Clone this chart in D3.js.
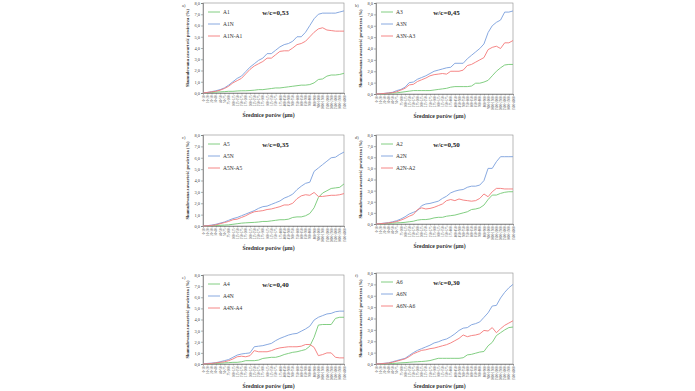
<!DOCTYPE html>
<html>
<head>
<meta charset="utf-8">
<script src="https://cdn.jsdelivr.net/npm/d3@7"></script>
<style>
body { margin: 0; background: #fff; }
text { font-family: "Liberation Serif", "DejaVu Serif", serif; }
</style>
</head>
<body>
<script>
var W = 695, H = 391;

// pore diameter classes (µm)
var classes = ["0-10","10-20","20-30","30-40","40-50","50-75","75-100","100-125","125-150","150-175",
  "175-200","200-225","225-250","250-275","275-300","300-325","325-350","350-375","375-400","400-450",
  "450-500","500-550","550-600","600-650","650-700","700-800","800-900","900-1000","1000-1500",
  "1500-2000","2000-2500","2500-3000","3000-3500","3500-4000"];
var yTicks = [0, 1, 2, 3, 4, 5, 6, 7, 8];

// a) w/c=0,53
var a1 = [0,0.02,0.05,0.08,0.1,0.12,0.15,0.15,0.18,0.2,0.2,0.22,0.25,0.3,0.3,0.35,0.4,0.45,0.45,0.5,0.55,0.6,0.65,0.7,0.7,0.75,0.9,1.2,1.25,1.5,1.6,1.6,1.65,1.75];
var a1n = [0,0.05,0.12,0.2,0.3,0.45,0.7,1.0,1.3,1.5,1.9,2.3,2.6,2.9,3.1,3.5,3.5,3.8,4.1,4.3,4.4,4.6,5.0,5.0,5.4,6.0,6.6,7.0,7.1,7.1,7.1,7.1,7.2,7.3];
var a1nA1 = [0,0.05,0.1,0.15,0.25,0.4,0.6,0.9,1.1,1.3,1.7,2.1,2.4,2.6,2.8,3.1,3.1,3.4,3.7,3.75,3.75,4.0,4.3,4.4,4.6,5.0,5.4,5.7,5.8,5.6,5.55,5.5,5.5,5.5];
// b) w/c=0,45
var a3 = [0,0,0.02,0.05,0.08,0.1,0.15,0.2,0.25,0.3,0.3,0.3,0.3,0.3,0.35,0.4,0.45,0.5,0.6,0.65,0.65,0.65,0.65,0.7,0.95,0.95,1.05,1.2,1.6,2.0,2.3,2.55,2.6,2.6];
var a3n = [0,0.02,0.05,0.1,0.15,0.3,0.4,0.6,1.0,1.05,1.3,1.45,1.6,1.8,2.0,2.1,2.2,2.3,2.35,2.7,2.7,2.7,3.1,3.4,3.7,4.0,4.4,5.4,6.0,6.3,6.5,7.2,7.2,7.3];
var a3nA3 = [0,0.02,0.05,0.08,0.12,0.2,0.35,0.5,0.8,0.85,1.1,1.25,1.4,1.6,1.7,1.75,1.8,1.75,2.0,2.0,2.0,2.1,2.5,2.6,2.8,3.0,3.2,3.9,4.1,4.2,4.0,4.5,4.5,4.7];
// c) w/c=0,35
var a5 = [0,0.01,0.03,0.05,0.06,0.08,0.1,0.15,0.2,0.25,0.28,0.3,0.32,0.35,0.4,0.4,0.45,0.5,0.55,0.55,0.6,0.75,0.8,0.8,0.9,1.1,1.6,2.5,2.9,3.1,3.3,3.35,3.4,3.7];
var a5n = [0,0.03,0.08,0.15,0.25,0.35,0.5,0.65,0.75,0.9,1.05,1.2,1.35,1.55,1.7,1.75,1.9,2.05,2.2,2.45,2.6,2.8,3.2,3.5,3.75,3.85,4.8,5.1,5.4,5.7,6.0,6.05,6.3,6.5];
var a5nA5 = [0,0.02,0.05,0.1,0.2,0.3,0.4,0.55,0.6,0.75,0.9,1.1,1.25,1.3,1.35,1.45,1.5,1.6,1.7,1.85,1.85,2.0,2.4,2.65,2.75,2.7,2.95,2.6,2.6,2.65,2.7,2.7,2.75,2.85];
// d) w/c=0,50
var a2 = [0,0.01,0.03,0.05,0.08,0.1,0.12,0.15,0.2,0.25,0.35,0.4,0.4,0.45,0.55,0.6,0.6,0.7,0.75,0.8,0.9,1.0,1.1,1.3,1.35,1.45,1.7,2.2,2.6,2.6,2.75,2.85,2.9,2.9];
var a2n = [0,0.03,0.08,0.12,0.2,0.3,0.45,0.65,0.9,1.05,1.2,1.65,1.8,1.85,1.95,2.05,2.3,2.5,2.8,2.95,3.05,3.1,3.3,3.4,3.4,3.5,3.9,5.0,5.0,5.6,6.05,6.05,6.05,6.05];
var a2nA2 = [0,0.03,0.06,0.1,0.15,0.22,0.35,0.5,0.7,0.85,1.3,1.45,1.35,1.4,1.5,1.65,1.8,2.1,2.2,2.1,2.25,2.15,2.1,2.05,2.1,2.3,2.7,2.45,2.9,3.2,3.2,3.15,3.15,3.15];
// e) w/c=0,40
var a4 = [0,0.01,0.03,0.05,0.07,0.1,0.12,0.15,0.15,0.2,0.3,0.3,0.3,0.35,0.5,0.55,0.6,0.6,0.7,0.85,0.95,1.05,1.1,1.2,1.3,1.6,2.4,3.5,3.55,3.55,3.55,4.1,4.2,4.2];
var a4n = [0,0.05,0.08,0.12,0.2,0.3,0.4,0.6,0.8,0.9,0.95,1.0,1.55,1.6,1.65,1.75,1.85,2.1,2.3,2.45,2.6,2.7,2.75,2.95,3.15,3.4,3.95,4.2,4.35,4.5,4.55,4.7,4.75,4.75];
var a4nA4 = [0,0.02,0.05,0.1,0.15,0.2,0.3,0.45,0.65,0.7,0.65,0.75,1.2,1.1,1.1,1.1,1.2,1.35,1.45,1.5,1.55,1.55,1.55,1.6,1.75,1.75,1.5,0.75,0.85,1.0,1.0,0.6,0.55,0.55];
// f) w/c=0,30
var a6 = [0,0.01,0.02,0.03,0.05,0.07,0.1,0.12,0.15,0.18,0.2,0.22,0.25,0.3,0.4,0.5,0.5,0.5,0.5,0.5,0.5,0.55,0.8,0.85,0.95,1.05,1.1,1.6,1.9,2.5,2.75,3.0,3.2,3.25];
var a6n = [0,0.03,0.06,0.1,0.2,0.3,0.4,0.5,0.75,1.0,1.2,1.35,1.5,1.65,1.85,1.95,2.1,2.2,2.4,2.65,2.95,3.15,3.2,3.45,3.55,3.7,4.1,4.5,5.1,5.15,5.8,6.3,6.7,7.0];
var a6nA6 = [0,0.02,0.05,0.08,0.15,0.25,0.35,0.45,0.65,0.9,1.05,1.2,1.25,1.35,1.4,1.5,1.6,1.7,1.85,2.05,2.25,2.55,2.4,2.5,2.55,2.65,2.95,2.9,3.2,2.75,3.1,3.4,3.6,3.8];

var colors = ["#74c874", "#7b9fdc", "#f47878"];

var panels = [
  {letter: "a)", title: "w/c=0,53", names: ["A1", "A1N", "A1N-A1"], series: [a1, a1n, a1nA1], x: 203, y: 3, w: 141, h: 90},
  {letter: "b)", title: "w/c=0,45", names: ["A3", "A3N", "A3N-A3"], series: [a3, a3n, a3nA3], x: 376, y: 3, w: 137, h: 91},
  {letter: "c)", title: "w/c=0,35", names: ["A5", "A5N", "A5N-A5"], series: [a5, a5n, a5nA5], x: 203, y: 135, w: 141, h: 91},
  {letter: "d)", title: "w/c=0,50", names: ["A2", "A2N", "A2N-A2"], series: [a2, a2n, a2nA2], x: 376, y: 135, w: 137, h: 89},
  {letter: "e)", title: "w/c=0,40", names: ["A4", "A4N", "A4N-A4"], series: [a4, a4n, a4nA4], x: 203, y: 275, w: 141, h: 89},
  {letter: "f)", title: "w/c=0,30", names: ["A6", "A6N", "A6N-A6"], series: [a6, a6n, a6nA6], x: 376, y: 273, w: 137, h: 91}
];

var svg = d3.select("body").append("svg")
    .attr("width", W)
    .attr("height", H);

svg.append("rect").attr("width", W).attr("height", H).attr("fill", "#fff");

panels.forEach(function(p) {
  var g = svg.append("g").attr("transform", "translate(" + p.x + "," + p.y + ")");

  var x = d3.scalePoint().domain(classes).range([0, p.w]).padding(0);
  var y = d3.scaleLinear().domain([0, 8]).range([p.h, 0]);

  // frame
  g.append("rect")
    .attr("width", p.w).attr("height", p.h)
    .attr("fill", "none").attr("stroke", "#8a8a8a").attr("stroke-width", 0.6);

  var yAxis = g.append("g")
    .call(d3.axisLeft(y).tickValues(yTicks).tickSize(2).tickFormat(function(d) {
      return d3.format(".1f")(d).replace(".", ",");
    }));
  yAxis.select(".domain").attr("stroke", "#666").attr("stroke-width", 0.6);
  yAxis.selectAll(".tick line").attr("stroke", "#666").attr("stroke-width", 0.5);
  yAxis.selectAll("text").attr("font-size", 4.5).attr("fill", "#444")
    .attr("font-family", "Liberation Serif").attr("x", -3);

  var xAxis = g.append("g").attr("transform", "translate(0," + p.h + ")")
    .call(d3.axisBottom(x).tickSize(1.5));
  xAxis.select(".domain").attr("stroke", "#666").attr("stroke-width", 0.6);
  xAxis.selectAll(".tick line").attr("stroke", "#666").attr("stroke-width", 0.4);
  xAxis.selectAll("text")
    .attr("font-size", 3.2).attr("fill", "#555").attr("font-family", "Liberation Serif")
    .attr("transform", "rotate(-90)")
    .attr("text-anchor", "end").attr("dy", "0.35em").attr("x", -2.5).attr("y", 0);

  var line = d3.line()
    .x(function(d, i) { return x(classes[i]); })
    .y(function(d) { return y(d); });

  p.series.forEach(function(s, k) {
    g.append("path")
      .datum(s)
      .attr("d", line)
      .attr("fill", "none")
      .attr("stroke", colors[k])
      .attr("stroke-width", 0.9);
  });

  // legend
  p.names.forEach(function(n, k) {
    var ly = 9 + k * 12;
    g.append("line")
      .attr("x1", 5).attr("x2", 17).attr("y1", ly).attr("y2", ly)
      .attr("stroke", colors[k]).attr("stroke-width", 0.9);
    g.append("text")
      .attr("x", 20).attr("y", ly).attr("dy", "0.35em")
      .attr("font-size", 5.5).attr("fill", "#333")
      .text(n);
  });

  g.append("text")
    .attr("x", p.w / 2 + 2).attr("y", 10)
    .attr("text-anchor", "middle").attr("dy", "0.35em")
    .attr("font-size", 7).attr("font-weight", "bold").attr("fill", "#222")
    .text(p.title);

  g.append("text")
    .attr("x", -21).attr("y", 2).attr("dy", "0.35em")
    .attr("font-size", 4.5).attr("fill", "#444")
    .text(p.letter);

  g.append("text")
    .attr("transform", "translate(-14," + (p.h / 2) + ") rotate(-90)")
    .attr("text-anchor", "middle")
    .attr("font-size", 4.6).attr("font-weight", "bold").attr("fill", "#333")
    .text("Skumulowana zawartość powietrza (%)");

  g.append("text")
    .attr("x", p.w / 2 - 5).attr("y", p.h + 24)
    .attr("text-anchor", "middle")
    .attr("font-size", 5.8).attr("font-weight", "bold").attr("fill", "#333")
    .text("Średnice porów (µm)");
});
</script>
</body>
</html>
